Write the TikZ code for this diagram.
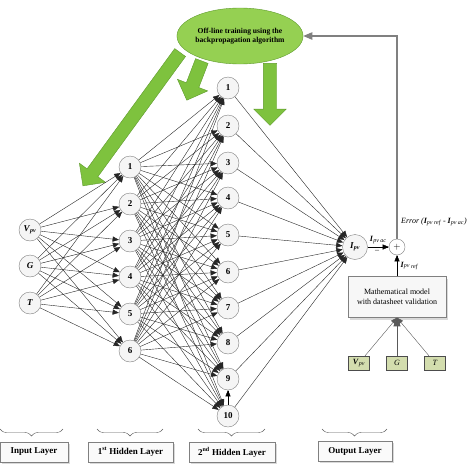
\documentclass[tikz,border=0pt]{standalone}
\usepackage{fontspec}
\setmainfont{Liberation Serif}
\usetikzlibrary{positioning}
\usetikzlibrary{shapes,arrows}
\usetikzlibrary{shadows}
\usetikzlibrary{decorations.pathreplacing}
\definecolor{trainfill}{HTML}{95D052}
\definecolor{trainline}{HTML}{5E9A2C}
\definecolor{arrowfill}{HTML}{7EC23E}
\definecolor{inputfill}{HTML}{D3DDAE}
\newcommand{\pv}[1]{\textbf{\textit{#1}}\textsubscript{\textit{pv}}}
\tikzset{%
  neuron/.style    = {draw=gray, circle, fill=gray!8, minimum size=22pt,
    inner sep=0pt, font=\small\bfseries}, % Neuron
  outneuron/.style = {neuron, minimum size=25pt}, % Output neuron
  sum/.style       = {draw=gray, circle, fill=white, minimum size=16pt,
    inner sep=0pt, font=\small}, % Adder
  model/.style     = {draw=gray, fill=gray!6, rectangle, minimum width=98pt,
    minimum height=41pt, align=center, font=\footnotesize, drop shadow={opacity=0.3}},
  measure/.style   = {draw=black!70, fill=inputfill, rectangle, minimum width=21pt,
    minimum height=14pt, inner sep=1pt, font=\footnotesize},
  layer/.style     = {draw=gray, fill=gray!4, rectangle, minimum height=20pt,
    font=\fontsize{9}{10}\selectfont\bfseries, drop shadow={opacity=0.3}},
  trainer/.style   = {draw=trainline, fill=trainfill, ellipse, minimum width=122pt,
    minimum height=56pt, align=center, inner sep=0pt,
    font=\fontsize{7.6}{9}\selectfont\bfseries},
  bigarrow/.style  = {draw=trainline, fill=arrowfill, single arrow, inner sep=6.5pt,
    minimum width=32pt, single arrow head extend=9.5pt, single arrow head indent=0pt},
  layerbrace/.style = {decorate, decoration={brace, mirror, amplitude=7pt}, gray!70!black}
}

\begin{document}
\begin{tikzpicture}[auto, x=1pt, y=-1pt, >=triangle 45]
  \useasboundingbox (0,0) rectangle (474,474);

  % green arrows of the training block
  \node at (133.5,116.5) [bigarrow, minimum height=165pt, rotate=233.9] (arrowA) {};
  \node at (195.5,77.5) [bigarrow, minimum height=42pt, rotate=249] (arrowB) {};
  \node at (270,91) [bigarrow, minimum height=62pt, rotate=270] (arrowC) {};
  \draw node at (240,36) [trainer] (train) {Off-line training using the\\backpropagation algorithm};

  % input layer
  \draw node at (30,230) [neuron] (in-1) {\pv{V}};
  \draw node at (30,266) [neuron] (in-2) {\textit{G}};
  \draw node at (30,303) [neuron] (in-3) {\textit{T}};

  % hidden layers
  \foreach \i/\y in {1/167,2/204,3/241,4/277,5/314,6/351}
    \draw node at (130,\y) [neuron] (ha-\i) {\i};
  \foreach \i/\y in {1/88,2/126,3/163,4/198,5/235,6/272,7/308,8/343,9/379,10/416}
    \draw node at (228,\y) [neuron] (hb-\i) {\i};

  % output
  \draw node at (355,247) [outneuron] (out) {\pv{I}};
  \draw node at (397,247) [sum] (sum) {$+$};
  \draw node at (397,297) [model] (mathmodel) {Mathematical model\\with datasheet validation};
  \draw node at (359,363) [measure] (mV) {\pv{V}};
  \draw node at (397,363) [measure] (mG) {\textit{G}};
  \draw node at (435,363) [measure] (mT) {\textit{T}};

  \foreach \i in {1,2,3}
    \foreach \j in {1,...,6}
      \draw[->, black!85] (in-\i) -- (ha-\j);
  \foreach \i in {1,...,6}
    \foreach \j in {1,...,10}
      \draw[->, black!85] (ha-\i) -- (hb-\j);
  \foreach \j in {1,...,10}
    \draw[->, black!85] (hb-\j) -- (out);
  \draw[->] (hb-10) -- (hb-9);

  \draw[->] (out) -- node {\footnotesize\pv{I}\textsubscript{\textit{\,ac}}}
    node[below, pos=0.45] {\footnotesize --} (sum);
  \draw[->] (mathmodel) -- node[right] {\footnotesize\pv{I}\textsubscript{\textit{\,ref}}} (sum);
  \draw[->, gray, line width=1.1pt] (sum) |- (train);
  \node at (401,222) [anchor=west, inner sep=0pt, font=\footnotesize\itshape] (error)
    {Error (\pv{I}\textsubscript{\textit{\,ref}} - \pv{I}\textsubscript{\textit{\,ac}})};

  \draw[->, gray!70!black] (mV) -- (mathmodel.south);
  \draw[->, gray!70!black, line width=1pt] (mG) -- (mathmodel.south);
  \draw[->, gray!70!black] (mT) -- (mathmodel.south);

  % layer names
  \draw[layerbrace] (0,429) -- (63,429);
  \draw[layerbrace] (97,429) -- (163,429);
  \draw[layerbrace] (198,429) -- (265,429);
  \draw[layerbrace] (322,429) -- (387,429);
  \draw node at (34,452) [layer, minimum width=68pt] (lin) {Input Layer};
  \draw node at (130.5,452) [layer, minimum width=85pt] (lha) {1\textsuperscript{st} Hidden Layer};
  \draw node at (232,452) [layer, minimum width=86pt] (lhb) {2\textsuperscript{nd} Hidden Layer};
  \draw node at (355,451) [layer, minimum width=74pt] (lout) {Output Layer};
\end{tikzpicture}
\end{document}
